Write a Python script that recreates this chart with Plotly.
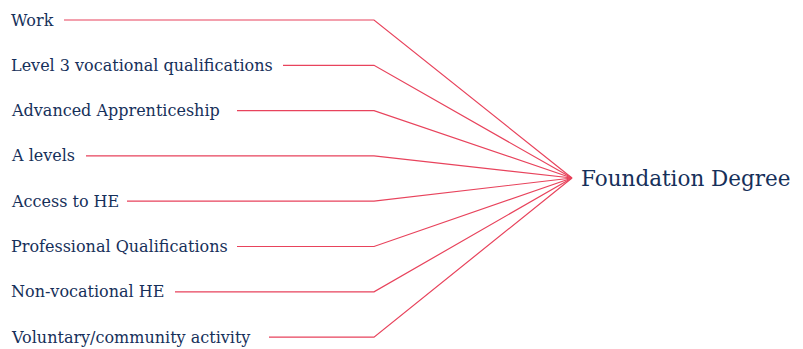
import plotly.graph_objects as go

sources = [
    "Work",
    "Level 3 vocational qualifications",
    "Advanced Apprenticeship",
    "A levels",
    "Access to HE",
    "Professional Qualifications",
    "Non-vocational HE",
    "Voluntary/community activity",
]
target = "Foundation Degree"

# layout (pixel coordinates on an 803x349 canvas; page body has an 8px margin)
W, H = 803, 349
OFF = 8
label_x = 9
row_y0, row_dy = 20, 45.3
line_start = [64, 283, 237, 86, 127, 237, 175, 269]
bend_x = 374
hub_x, hub_y = 572, 178
line_color = "#E8435C"
text_color = "#16305A"
font_family = "DejaVu Serif"

fig = go.Figure()
for i, name in enumerate(sources):
    y = row_y0 + i * row_dy
    fig.add_trace(go.Scatter(
        x=[line_start[i], bend_x, hub_x], y=[y, y, hub_y],
        mode="lines", line=dict(color=line_color, width=1.2),
        hoverinfo="skip", showlegend=False))
    fig.add_annotation(x=label_x, y=y, text=name, showarrow=False,
                       xanchor="left", yanchor="middle",
                       font=dict(family=font_family, size=16, color=text_color))

fig.add_annotation(x=hub_x + 7, y=hub_y, text=target, showarrow=False,
                   xanchor="left", yanchor="middle",
                   font=dict(family=font_family, size=21.5, color=text_color))

fig.update_layout(
    width=W, height=H, margin=dict(l=0, r=0, t=0, b=0),
    paper_bgcolor="white", plot_bgcolor="white",
    xaxis=dict(range=[OFF, W + OFF], visible=False, fixedrange=True),
    yaxis=dict(range=[H + OFF, OFF], visible=False, fixedrange=True),
)
fig.write_html("out.html")
